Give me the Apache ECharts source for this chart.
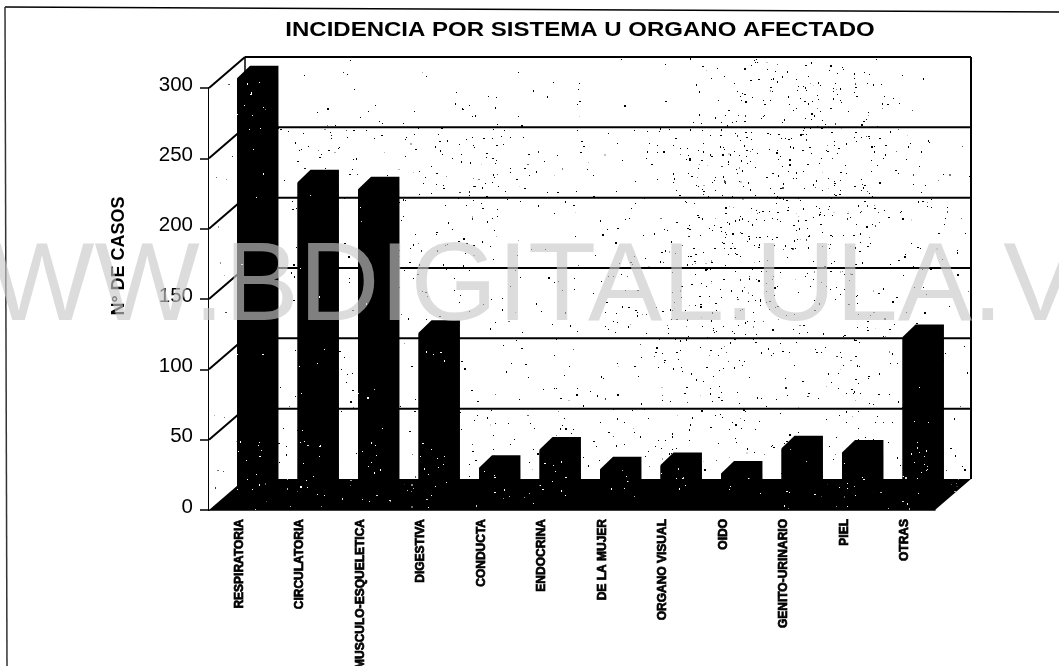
<!DOCTYPE html>
<html>
<head>
<meta charset="utf-8">
<title>Incidencia por sistema u organo afectado</title>
<script src="https://cdn.jsdelivr.net/npm/echarts@6/dist/echarts.min.js"></script>
<style>
  html, body { margin: 0; padding: 0; background: #fff; }
  #chart { width: 1059px; height: 666px; }
</style>
</head>
<body>
<div id="chart"></div>
<script>
  var categories = ['RESPIRATORIA', 'CIRCULATORIA', 'MUSCULO-ESQUELETICA', 'DIGESTIVA', 'CONDUCTA', 'ENDOCRINA',
    'DE LA MUJER', 'ORGANO VISUAL', 'OIDO', 'GENITO-URINARIO', 'PIEL', 'OTRAS'];
  var casos = [297, 223, 218, 116, 20, 33, 19, 22, 16, 34, 31, 113];
  var tickValues = [0, 50, 100, 150, 200, 250, 300];

  // 3d look of the old spreadsheet chart, offsets in px
  var wallDepth = [36, -31];
  var barShift = [12, -14];
  var barDepth = [13, -12.5];

  // scan grain of the printout, only a texture: fixed seed so every run gives the same picture
  var seed = 12345;
  function rnd() {
    seed = (seed * 1103515245 + 12345) % 2147483648;
    return seed / 2147483648;
  }
  function grain(bg, dot, count, density) {
    var c = document.createElement('canvas');
    c.width = 1059;
    c.height = 666;
    var ctx = c.getContext('2d');
    ctx.fillStyle = bg;
    ctx.fillRect(0, 0, 1059, 666);
    for (var i = 0; i < count; i++) {
      var x = rnd() * 1059, y = rnd() * 666;
      if (rnd() > density(x, y)) continue;
      ctx.fillStyle = 'rgba(' + dot + ',' + (0.15 + rnd() * 0.75) + ')';
      ctx.fillRect(Math.round(x), Math.round(y), rnd() < 0.2 ? 2 : 1, rnd() < 0.2 ? 2 : 1);
    }
    return c;
  }
  var blobs = [[800, 95, 110, 0.5], [780, 160, 150, 0.7], [760, 240, 130, 0.7], [850, 150, 90, 0.4], [480, 160, 90, 0.4],
    [330, 150, 70, 0.4], [690, 340, 120, 0.5], [860, 360, 60, 0.7], [560, 430, 60, 0.3], [750, 430, 60, 0.5]];
  var wallGrain = grain('#fff', '0,0,0', 170000, function (x, y) {
    var d = y < 128 ? 0.06 : 0.24;
    blobs.forEach(function (b) {
      var r = Math.hypot(x - b[0], y - b[1]) / b[2];
      if (r < 1) d += b[3] * (1 - r);
    });
    return d;
  });
  var sideGrain = grain('#fff', '0,0,0', 1500, function () { return 0.5; });
  var barGrain = grain('#000', '255,255,255', 90000, function (x, y) {
    if (y > 440) return 0.5;
    return x < 270 && y < 130 ? 0.5 : 0.08;
  });
  var floorGrain = grain('#000', '255,255,255', 12000, function () { return 0.3; });

  function polygon(points, fill, z2) {
    return { type: 'polygon', z2: z2 || 0, shape: { points: points }, style: { fill: fill, stroke: null } };
  }
  function line(a, b, width) {
    return {
      type: 'line', z2: 1,
      shape: { x1: a[0], y1: a[1], x2: b[0], y2: b[1] },
      style: { stroke: '#000', lineWidth: width }
    };
  }

  function renderWalls(params, api) {
    var rect = params.coordSys;
    var dx = wallDepth[0], dy = wallDepth[1];
    var x0 = rect.x, x1 = rect.x + rect.width;
    var top = api.coord([0, 300])[1], base = api.coord([0, 0])[1];
    var kids = [
      polygon([[x0, base], [x0 + dx, base + dy], [x0 + dx, top + dy], [x0, top]], { image: sideGrain, repeat: 'no-repeat' }),
      polygon([[x0 + dx, base + dy], [x1 + dx, base + dy], [x1 + dx, top + dy], [x0 + dx, top + dy]], { image: wallGrain, repeat: 'no-repeat' }),
      polygon([[x0, base], [x1, base], [x1 + dx, base + dy], [x0 + dx, base + dy]], { image: floorGrain, repeat: 'no-repeat' }, 2)
    ];
    tickValues.forEach(function (v) {
      var y = api.coord([0, v])[1];
      if (v > 0) {
        kids.push(line([x0, y], [x0 + dx, y + dy], 2));
        kids.push(line([x0 + dx, y + dy], [x1 + dx, y + dy], 2));
      }
    });
    kids.push(line([x0 + dx, top + dy], [x0 + dx, base + dy], 1.5));
    kids.push(line([x1 + dx, top + dy], [x1 + dx, base + dy], 2));
    return { type: 'group', children: kids };
  }

  function renderBar(params, api) {
    var i = api.value(0);
    var w = api.size([1, 0])[0] * 0.47;
    var top = api.coord([i, api.value(1)]);
    var bottom = api.coord([i, 0]);
    var l = top[0] + barShift[0] - w / 2, r = l + w;
    var t = top[1] + barShift[1], b = bottom[1] + barShift[1];
    var dx = barDepth[0], dy = barDepth[1];
    return {
      type: 'group',
      children: [
        // whole silhouette in black, so no seam shows between the faces
        polygon([[l, t], [l + dx, t + dy], [r + dx, t + dy], [r + dx, b + dy], [r, b], [l, b]], '#000'),
        polygon([[l, t + 1], [r, t + 1], [r, b], [l, b]], { image: barGrain, repeat: 'no-repeat' }, 1)
      ]
    };
  }

  var chart = echarts.init(document.getElementById('chart'), null, { renderer: 'canvas' });
  chart.setOption({
    animation: false,
    backgroundColor: '#fff',
    textStyle: { fontFamily: '"Liberation Sans", Arial, sans-serif', color: '#000' },
    grid: { left: 209, right: 124, top: 88, bottom: 156, outerBoundsMode: 'none' },
    xAxis: {
      type: 'category',
      data: categories,
      axisLine: { lineStyle: { color: '#000', width: 1.5 } },
      axisTick: { length: 7, lineStyle: { color: '#000', width: 1.5 } },
      axisLabel: {
        interval: 0,
        rotate: 90,
        margin: 9,
        color: '#000',
        fontWeight: 'bold',
        fontSize: 12,
        textBorderColor: '#000',
        textBorderWidth: 0.7
      }
    },
    yAxis: {
      type: 'value',
      min: 0,
      max: 300,
      interval: 50,
      name: 'N° DE CASOS',
      nameLocation: 'middle',
      nameRotate: 90,
      nameGap: 81,
      nameTextStyle: { fontWeight: 'bold', fontSize: 18, color: '#000', padding: [0, 0, 0, 86] },
      splitLine: { show: false },
      axisLine: { show: true, lineStyle: { color: '#000', width: 2 } },
      axisTick: { show: true, length: 9, lineStyle: { color: '#000', width: 1.5 } },
      axisLabel: { margin: 16, color: '#000', fontSize: 20.5, verticalAlign: 'bottom', lineHeight: 6 }
    },
    series: [
      {
        name: 'Paredes',
        type: 'custom',
        silent: true,
        renderItem: renderWalls,
        data: [[0, 0]],
        encode: { x: 0, y: 1 },
        z: 1
      },
      {
        name: 'N° de casos',
        type: 'custom',
        renderItem: renderBar,
        data: casos.map(function (v, i) { return [i, v]; }),
        encode: { x: 0, y: 1 },
        z: 3
      }
    ],
    graphic: [
      {
        // spaced out title of the original, stretched because canvas text has no tracking here
        type: 'text',
        z: 5,
        x: 580,
        y: 30,
        scaleX: 1.144,
        style: {
          text: 'INCIDENCIA POR SISTEMA U ORGANO AFECTADO',
          x: 0,
          y: 0,
          align: 'center',
          verticalAlign: 'middle',
          font: 'bold 21px "Liberation Sans", Arial, sans-serif',
          fill: '#000'
        }
      },
      { type: 'line', z: 5, shape: { x1: 5, y1: 7, x2: 1059, y2: 12 }, style: { stroke: '#000', lineWidth: 1.5 } },
      { type: 'line', z: 5, shape: { x1: 5, y1: 7, x2: 7, y2: 666 }, style: { stroke: '#333', lineWidth: 1.5 } },
      {
        type: 'text',
        z: 100,
        silent: true,
        style: {
          text: 'WWW.BDIGITAL.ULA.VE',
          x: -116,
          y: 289,
          verticalAlign: 'middle',
          font: '111.5px "Liberation Sans", Arial, sans-serif',
          fill: 'rgba(200,200,200,0.64)'
        }
      }
    ]
  });
</script>
</body>
</html>
